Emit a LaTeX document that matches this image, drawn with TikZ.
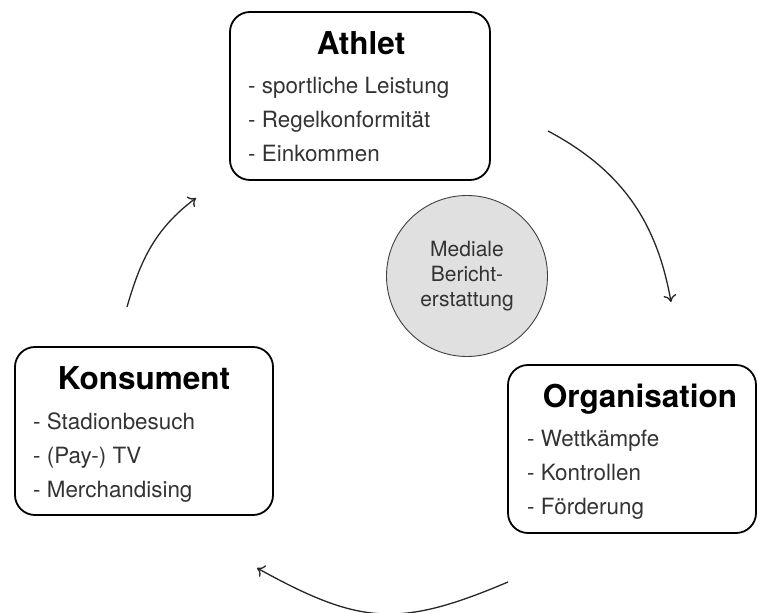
\documentclass[tikz,border=0pt]{standalone}
\usepackage{fontspec}
\setmainfont{TeX Gyre Heros}
\usetikzlibrary{arrows.meta}

\tikzset{
  card/.style={draw=black, line width=1.8pt, rounded corners=20pt, minimum height=168pt, inner sep=0pt},
  cardtitle/.style={anchor=base, inner sep=0pt, font=\fontsize{31.5}{36}\selectfont\bfseries, text=black},
  carditem/.style={anchor=base west, inner sep=0pt, font=\fontsize{22.4}{26}\selectfont, text=black!80},
  media/.style={circle, draw=black!75, line width=0.9pt, fill=black!12, minimum size=161pt, inner sep=0pt,
    align=center, font=\fontsize{21}{25}\selectfont, text=black!80},
  flow/.style={line width=1.3pt, draw=black!85, -{To[length=7pt,width=13pt]}}
}

\begin{document}
\begin{tikzpicture}[x=1pt, y=1pt]
  \useasboundingbox (0,0) rectangle (758,613);

  % actor cards
  \node[card, minimum width=260pt] (athlet) at (360,517) {};
  \node[cardtitle] (athlet-t) at (361,558) {Athlet};
  \node[carditem] (athlet-1) at (248,519) {- sportliche Leistung};
  \node[carditem] (athlet-2) at (248,485) {- Regelkonformität};
  \node[carditem] (athlet-3) at (248,451) {- Einkommen};

  \node[card, minimum width=258pt] (konsument) at (144,182) {};
  \node[cardtitle] (konsument-t) at (144,223) {Konsument};
  \node[carditem] (konsument-1) at (33,183) {- Stadionbesuch};
  \node[carditem] (konsument-2) at (33,149) {- (Pay-) TV};
  \node[carditem] (konsument-3) at (33,115) {- Merchandising};

  \node[card, minimum width=248pt] (organisation) at (632,164) {};
  \node[cardtitle] (organisation-t) at (640,205) {Organisation};
  \node[carditem] (organisation-1) at (527,166) {- Wettkämpfe};
  \node[carditem] (organisation-2) at (527,132) {- Kontrollen};
  \node[carditem] (organisation-3) at (527,98) {- Förderung};

  % media in the middle
  \node[media] (medien) at (467,337) {Mediale\\Bericht-\\erstattung};

  % cycle arrows
  \coordinate (a1s) at (548,482);
  \coordinate (a1e) at (671,311);
  \coordinate (a2s) at (508,31);
  \coordinate (a2e) at (257,45);
  \coordinate (a3s) at (127,306);
  \coordinate (a3e) at (196,415);

  \draw[flow] (a1s) to[out=-28, in=100] (a1e);
  \draw[flow] (a2s) to[out=203, in=-29, looseness=1.2] (a2e);
  \draw[flow] (a3s) to[out=74, in=217] (a3e);
\end{tikzpicture}
\end{document}
